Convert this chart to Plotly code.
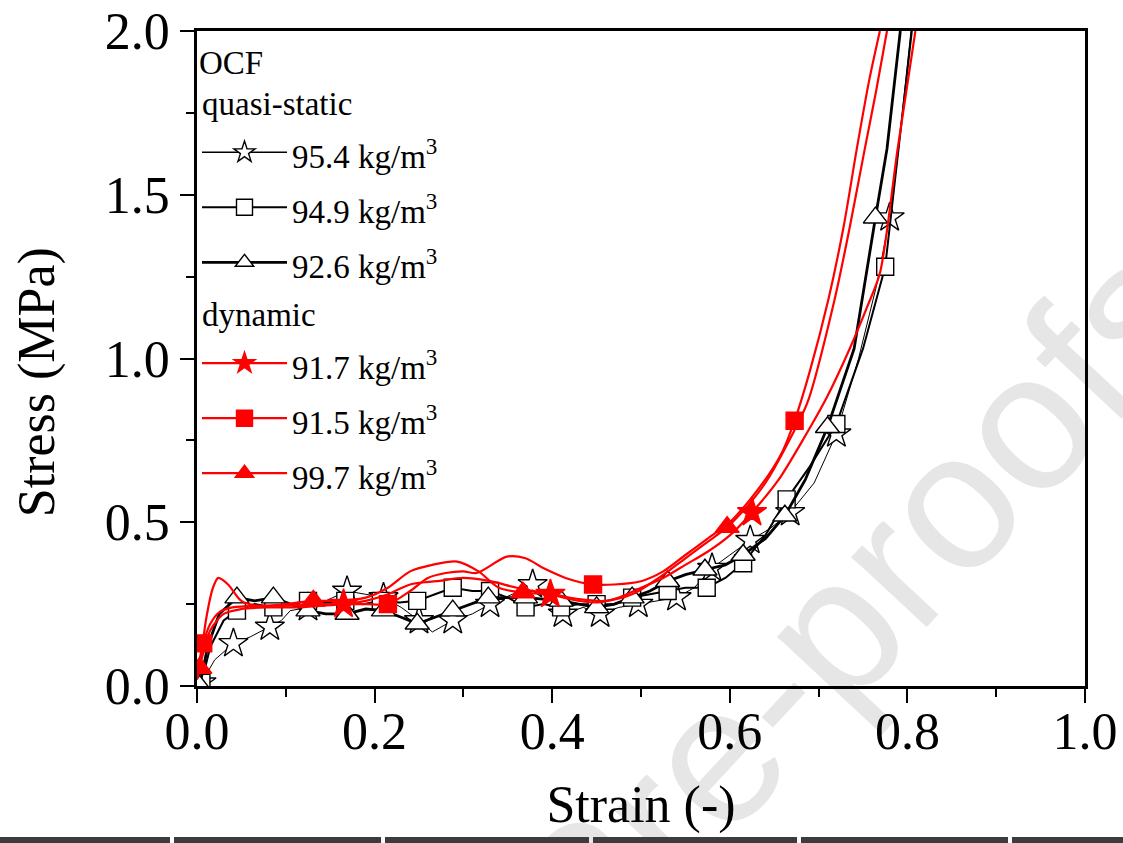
import plotly.graph_objects as go

# ---------------- data ----------------
# quasi-static, 95.4 kg/m3 (open stars, thin black line)
qs1_strain = [0.0, 0.005, 0.02, 0.041, 0.06, 0.082, 0.095, 0.105, 0.125, 0.145, 0.169, 0.19, 0.21, 0.23,
              0.25, 0.265, 0.288, 0.31, 0.33, 0.355, 0.378, 0.395, 0.412, 0.435, 0.454, 0.475, 0.497, 0.52,
              0.54, 0.56, 0.58, 0.60, 0.623, 0.645, 0.668, 0.695, 0.72, 0.745, 0.765, 0.78, 0.79, 0.804]
qs1_stress = [0.0, 0.01, 0.08, 0.13, 0.15, 0.18, 0.20, 0.23, 0.24, 0.26, 0.29, 0.28, 0.27, 0.24,
              0.20, 0.165, 0.20, 0.22, 0.25, 0.28, 0.31, 0.27, 0.22, 0.24, 0.22, 0.24, 0.25, 0.26,
              0.27, 0.30, 0.36, 0.40, 0.445, 0.48, 0.53, 0.62, 0.77, 1.0, 1.22, 1.43, 1.64, 2.0]
qs1_marks = [1, 3, 5, 8, 10, 12, 14, 16, 18, 20, 22, 24, 26, 28, 30, 32, 34, 36, 39]

# quasi-static, 94.9 kg/m3 (open squares)
qs2_strain = [0.0, 0.005, 0.015, 0.03, 0.045, 0.065, 0.086, 0.105, 0.125, 0.145, 0.167, 0.187, 0.207, 0.228,
              0.248, 0.268, 0.288, 0.31, 0.33, 0.35, 0.37, 0.39, 0.41, 0.43, 0.45, 0.47, 0.49, 0.51, 0.53,
              0.55, 0.574, 0.595, 0.615, 0.64, 0.664, 0.69, 0.72, 0.75, 0.775, 0.79, 0.805]
qs2_stress = [0.0, 0.01, 0.12, 0.20, 0.23, 0.25, 0.24, 0.25, 0.26, 0.255, 0.26, 0.25, 0.26, 0.255,
              0.26, 0.28, 0.30, 0.29, 0.29, 0.27, 0.24, 0.25, 0.24, 0.25, 0.25, 0.25, 0.27, 0.28, 0.29,
              0.30, 0.30, 0.33, 0.375, 0.46, 0.57, 0.67, 0.80, 1.03, 1.28, 1.64, 2.0]
qs2_marks = [1, 4, 6, 8, 10, 12, 14, 16, 18, 20, 22, 24, 26, 28, 30, 32, 34, 36, 38]

# quasi-static, 92.6 kg/m3 (open triangles, thick black line)
qs3_strain = [0.0, 0.003, 0.012, 0.025, 0.045, 0.065, 0.086, 0.105, 0.125, 0.145, 0.169, 0.19, 0.21, 0.23,
              0.248, 0.268, 0.288, 0.31, 0.328, 0.35, 0.37, 0.39, 0.41, 0.43, 0.45, 0.47, 0.49, 0.51, 0.53,
              0.55, 0.572, 0.595, 0.615, 0.64, 0.662, 0.685, 0.71, 0.74, 0.764, 0.777, 0.792]
qs3_stress = [0.0, 0.0, 0.12, 0.22, 0.27, 0.26, 0.27, 0.25, 0.23, 0.22, 0.22, 0.235, 0.23, 0.21,
              0.19, 0.21, 0.23, 0.25, 0.27, 0.27, 0.27, 0.265, 0.26, 0.25, 0.24, 0.25, 0.27, 0.29, 0.32,
              0.34, 0.355, 0.37, 0.40, 0.45, 0.52, 0.63, 0.79, 1.03, 1.43, 1.64, 2.0]
qs3_marks = [1, 4, 6, 8, 10, 12, 14, 16, 18, 20, 22, 24, 26, 28, 30, 32, 34, 36, 38]

# dynamic, 91.7 kg/m3 (red stars)
dy1_strain = [0.0, 0.005, 0.015, 0.03, 0.05, 0.08, 0.11, 0.14, 0.165, 0.19, 0.215, 0.24, 0.27, 0.30,
              0.33, 0.36, 0.398, 0.42, 0.45, 0.475, 0.50, 0.525, 0.55, 0.575, 0.60, 0.625, 0.655, 0.682,
              0.709, 0.735, 0.755, 0.769, 0.789, 0.809]
dy1_stress = [0.03, 0.08, 0.17, 0.22, 0.235, 0.24, 0.24, 0.245, 0.25, 0.26, 0.28, 0.31, 0.32, 0.33,
              0.32, 0.30, 0.28, 0.265, 0.255, 0.27, 0.30, 0.33, 0.37, 0.41, 0.46, 0.53, 0.63, 0.75,
              0.88, 1.03, 1.16, 1.26, 1.64, 2.0]
dy1_marks = [8, 16, 25]

# dynamic, 91.5 kg/m3 (red squares)
dy2_strain = [0.0, 0.007, 0.015, 0.025, 0.04, 0.07, 0.10, 0.13, 0.16, 0.19, 0.215, 0.24, 0.26, 0.28,
              0.30, 0.315, 0.349, 0.37, 0.39, 0.415, 0.446, 0.47, 0.50, 0.525, 0.55, 0.575, 0.60, 0.623,
              0.645, 0.66, 0.673, 0.69, 0.711, 0.728, 0.743, 0.757, 0.769]
dy2_stress = [0.04, 0.13, 0.19, 0.225, 0.24, 0.245, 0.245, 0.25, 0.25, 0.25, 0.25, 0.29, 0.33, 0.345,
              0.35, 0.345, 0.395, 0.39, 0.36, 0.33, 0.31, 0.31, 0.32, 0.35, 0.40, 0.45, 0.50, 0.57,
              0.65, 0.72, 0.81, 0.96, 1.18, 1.40, 1.64, 1.85, 2.0]
dy2_marks = [1, 10, 20, 30]

# dynamic, 99.7 kg/m3 (red triangles)
dy3_strain = [0.0, 0.003, 0.01, 0.018, 0.024, 0.035, 0.05, 0.07, 0.10, 0.131, 0.16, 0.19, 0.215, 0.24,
              0.265, 0.293, 0.317, 0.34, 0.367, 0.40, 0.43, 0.46, 0.49, 0.52, 0.55, 0.575, 0.597, 0.62,
              0.64, 0.665, 0.688, 0.718, 0.735, 0.752, 0.765, 0.777]
dy3_stress = [0.02, 0.055, 0.20, 0.30, 0.33, 0.31, 0.26, 0.245, 0.25, 0.26, 0.26, 0.27, 0.30, 0.35,
              0.37, 0.38, 0.35, 0.30, 0.285, 0.28, 0.265, 0.26, 0.28, 0.33, 0.39, 0.44, 0.485, 0.55,
              0.62, 0.74, 0.87, 1.18, 1.40, 1.64, 1.82, 2.0]
dy3_marks = [1, 9, 18, 26]

labels = ["95.4 kg/m<sup>3</sup>", "94.9 kg/m<sup>3</sup>", "92.6 kg/m<sup>3</sup>",
          "91.7 kg/m<sup>3</sup>", "91.5 kg/m<sup>3</sup>", "99.7 kg/m<sup>3</sup>"]
x_ticks = [0.0, 0.2, 0.4, 0.6, 0.8, 1.0]
y_ticks = [0.0, 0.5, 1.0, 1.5, 2.0]

# ---------------- figure ----------------
SERIF = "Liberation Serif, Times New Roman, serif"
RED = "#ff0000"

series = [
    (qs1_strain, qs1_stress, qs1_marks, "black", 1.0, "star", "white", "black", 22, "qs"),
    (qs2_strain, qs2_stress, qs2_marks, "black", 2.0, "square", "white", "black", 17, "qs"),
    (qs3_strain, qs3_stress, qs3_marks, "black", 2.8, "triangle-up", "white", "black", 21, "qs"),
    (dy1_strain, dy1_stress, dy1_marks, RED, 2.2, "star", RED, RED, 22, "dyn"),
    (dy2_strain, dy2_stress, dy2_marks, RED, 2.2, "square", RED, RED, 17, "dyn"),
    (dy3_strain, dy3_stress, dy3_marks, RED, 2.2, "triangle-up", RED, RED, 21, "dyn"),
]

fig = go.Figure()
for k, (xs, ys, mk, lc, lw, sym, fc, mlc, ms, grp) in enumerate(series):
    shape = "spline" if grp == "dyn" else "linear"
    fig.add_trace(go.Scatter(x=xs, y=ys, mode="lines", showlegend=False, legendgroup=grp,
                             line=dict(color=lc, width=lw, shape=shape, smoothing=0.8),
                             hoverinfo="skip"))
    fig.add_trace(go.Scatter(x=[xs[i] for i in mk], y=[ys[i] for i in mk], mode="markers",
                             showlegend=False, legendgroup=grp,
                             marker=dict(symbol=sym, size=ms, color=fc,
                                         line=dict(color=mlc, width=1.4))))

# legend entries
for k, (xs, ys, mk, lc, lw, sym, fc, mlc, ms, grp) in enumerate(series):
    kw = {}
    if k == 0:
        kw["legendgrouptitle"] = dict(text="quasi-static", font=dict(family=SERIF, size=33, color="black"))
    if k == 3:
        kw["legendgrouptitle"] = dict(text="dynamic", font=dict(family=SERIF, size=33, color="black"))
    fig.add_trace(go.Scatter(x=[None], y=[None], mode="lines+markers",
                             name='<span style="font-size:33px">' + labels[k] + '</span>',
                             legendgroup=grp,
                             line=dict(color=lc, width=max(lw, 1.5)),
                             marker=dict(symbol=sym, size=ms, color=fc, line=dict(color=mlc, width=1.4)),
                             **kw))

axis_font = dict(family=SERIF, size=52, color="black")
fig.update_xaxes(range=[0, 1], tickvals=x_ticks, tickformat=".1f", ticks="outside", ticklen=14,
                 tickwidth=2, tickcolor="black", showline=True, linewidth=2.5, linecolor="black",
                 mirror=True, showgrid=False, zeroline=False, tickfont=axis_font, automargin=False,
                 ticklabelstandoff=-16,
                 minor=dict(dtick=0.1, ticks="outside", ticklen=8, tickwidth=2, tickcolor="black"),
                 title=dict(text="Strain (-)", font=axis_font, standoff=27))
fig.update_yaxes(range=[0, 2], tickvals=y_ticks, tickformat=".1f", ticks="outside", ticklen=14,
                 tickwidth=2, tickcolor="black", showline=True, linewidth=2.5, linecolor="black",
                 mirror=True, showgrid=False, zeroline=False, tickfont=axis_font, automargin=False,
                 minor=dict(dtick=0.25, ticks="outside", ticklen=8, tickwidth=2, tickcolor="black"))

# y-axis title (placed as in the source, slightly below the axis centre)
fig.add_annotation(text="Stress (MPa)", xref="paper", yref="paper", x=-0.180, y=0.464,
                   xanchor="center", yanchor="middle", textangle=-90, showarrow=False,
                   font=axis_font)

# watermark of the source page, drawn beneath the curves
fig.add_shape(type="rect", xref="paper", yref="paper", x0=0.714, x1=0.734, y0=0.13, y1=0.15,
              line=dict(width=0), fillcolor="rgba(0,0,0,0)", layer="below",
              label=dict(text="Pre-proofs", textangle=-47, textposition="middle center",
                         font=dict(family="Liberation Sans, Arial, sans-serif", size=195,
                                   color="#e6e6e6")))
# dark photo strip at the bottom edge of the source page
strip_edges = [(-197, 170), (174, 381), (385, 589), (593, 797), (801, 1008), (1012, 1130)]
for a, b in strip_edges:
    fig.add_shape(type="rect", xref="paper", yref="paper",
                  x0=(a - 197) / 888, x1=(b - 197) / 888,
                  y0=(686 - 837) / 655, y1=(686 - 845) / 655,
                  fillcolor="#3c3c3c", line=dict(width=0), layer="above")

fig.update_layout(
    width=1123, height=843,
    margin=dict(l=197, r=38, t=31, b=157, autoexpand=False),
    plot_bgcolor="white", paper_bgcolor="white",
    font=dict(family=SERIF, color="black"),
    legend=dict(x=0.0, y=1.0, xanchor="left", yanchor="top", bgcolor="rgba(0,0,0,0)",
                font=dict(family=SERIF, size=40, color="black"),
                title=dict(text="OCF", font=dict(family=SERIF, size=33, color="black")),
                traceorder="grouped", tracegroupgap=0, itemsizing="trace", itemwidth=85),
)

fig.write_html("out.html")
